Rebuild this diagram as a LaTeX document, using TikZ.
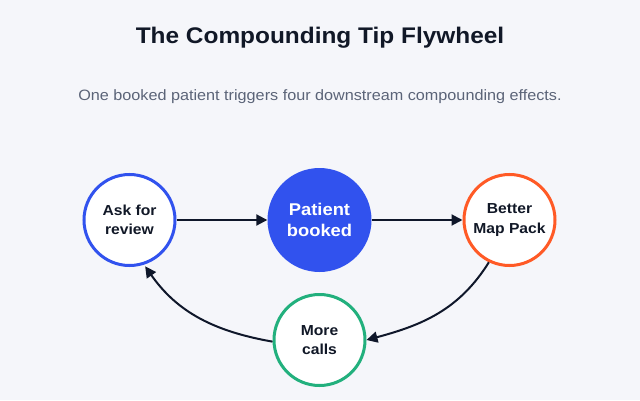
\documentclass[tikz,border=0pt]{standalone}
\usepackage{fontspec}
\setmainfont[FakeStretch=1.08]{Liberation Sans}
\usetikzlibrary{arrows.meta}
\definecolor{bg}{HTML}{F5F6FA}
\definecolor{ink}{HTML}{111827}
\definecolor{sub}{HTML}{5B6478}
\definecolor{cblue}{HTML}{3152EE}
\definecolor{corange}{HTML}{FF5A26}
\definecolor{cgreen}{HTML}{22B07D}
\definecolor{arr}{HTML}{0F172A}
\tikzset{
  ring/.style={circle, draw=#1, line width=3pt, fill=white, minimum size=91pt, inner sep=0pt,
    align=center, text=ink, font=\fontsize{14.5}{19.5}\selectfont\bfseries},
  hub/.style={circle, fill=cblue, minimum size=104pt, inner sep=0pt, align=center,
    text=white, font=\fontsize{17}{21}\selectfont\bfseries},
  flow/.style={draw=arr, line width=2pt, -{Triangle[length=11pt,width=11pt]}},
}
\begin{document}
\begin{tikzpicture}[x=1pt,y=1pt]
\fill[bg] (0,0) rectangle (640,400);
\useasboundingbox (0,0) rectangle (640,400);
\node[font=\fontsize{22.6}{26}\selectfont\bfseries, text=ink] (title) at (320,362) {The Compounding Tip Flywheel};
\node[font=\fontsize{15}{18}\selectfont, text=sub] (subtitle) at (320,303) {One booked patient triggers four downstream compounding effects.};
\node[ring=cblue] (ask) at (129.5,180) {Ask for\\review};
\node[hub] (patient) at (319.5,180) {Patient\\booked};
\node[ring=corange] (better) at (509.5,180) {Better\\Map Pack};
\node[ring=cgreen] (more) at (319.5,60) {More\\calls};
\draw[flow] (ask) -- (patient);
\draw[flow] (patient) -- (better);
\draw[flow] (better.244) to[out=-122,in=15] (more.east);
\draw[flow, shorten >=2pt] (more.182) to[out=170,in=-55] (ask.-72);
\end{tikzpicture}
\end{document}
